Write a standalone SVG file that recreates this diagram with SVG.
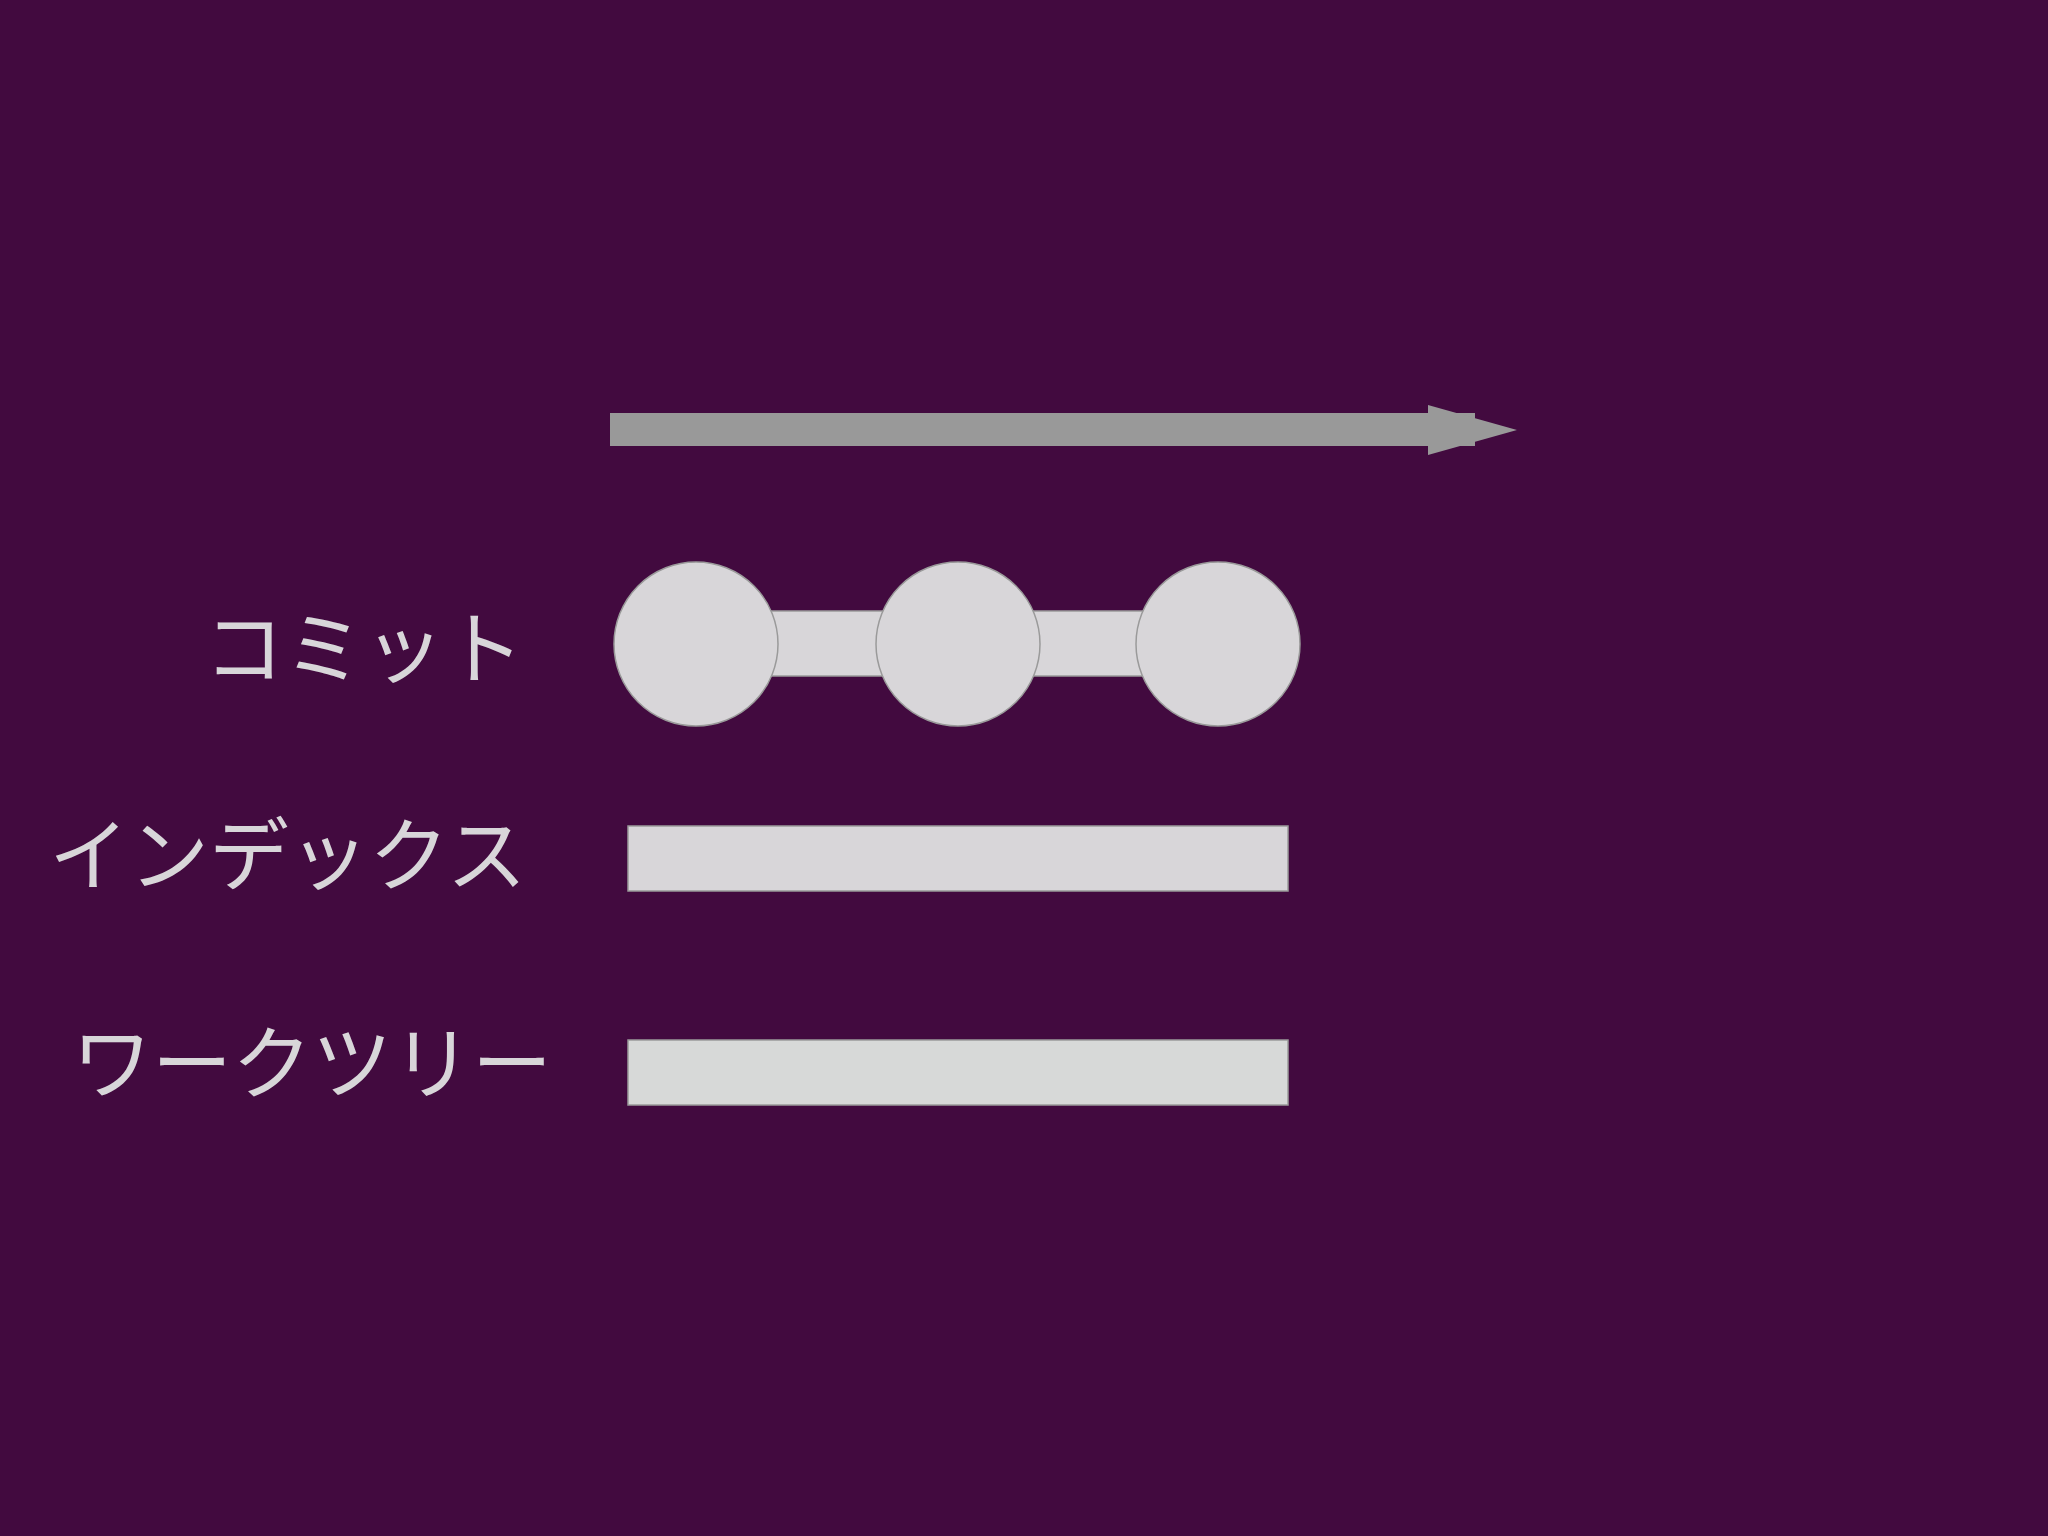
<svg xmlns="http://www.w3.org/2000/svg" width="2048" height="1536" viewBox="0 0 2048 1536">
<style>
.shape{fill:#d8d6d9;stroke:#9a9a9a;stroke-width:1.5}
.lbl{font-family:"Noto Sans CJK JP","Noto Sans",sans-serif;font-size:80px;fill:#d8d6d9}
</style>
<rect x="0" y="0" width="2048" height="1536" fill="#420a3f"/>
<g id="connectors">
<rect x="700" y="611" width="520" height="65" class="shape"/>
</g>
<g id="timeline-arrow">
<rect x="610" y="413" width="865" height="33" fill="#999999"/>
<polygon points="1428,405 1517,430 1428,455" fill="#999999"/>
</g>
<g id="commit1"><circle cx="696" cy="644" r="82" class="shape"/></g>
<g id="commit2"><circle cx="958" cy="644" r="82" class="shape"/></g>
<g id="commit3"><circle cx="1218" cy="644" r="82" class="shape"/></g>
<g id="index"><rect x="628" y="826" width="660" height="65" class="shape"/></g>
<g id="worktree"><rect x="628" y="1040" width="660" height="65" class="shape" style="fill:#d7d9d8"/></g>
<g id="labels">
<text class="lbl" x="204" y="677">コミット</text>
<text class="lbl" x="49" y="884">インデックス</text>
<text class="lbl" x="72" y="1092">ワークツリー</text>
</g>
</svg>
